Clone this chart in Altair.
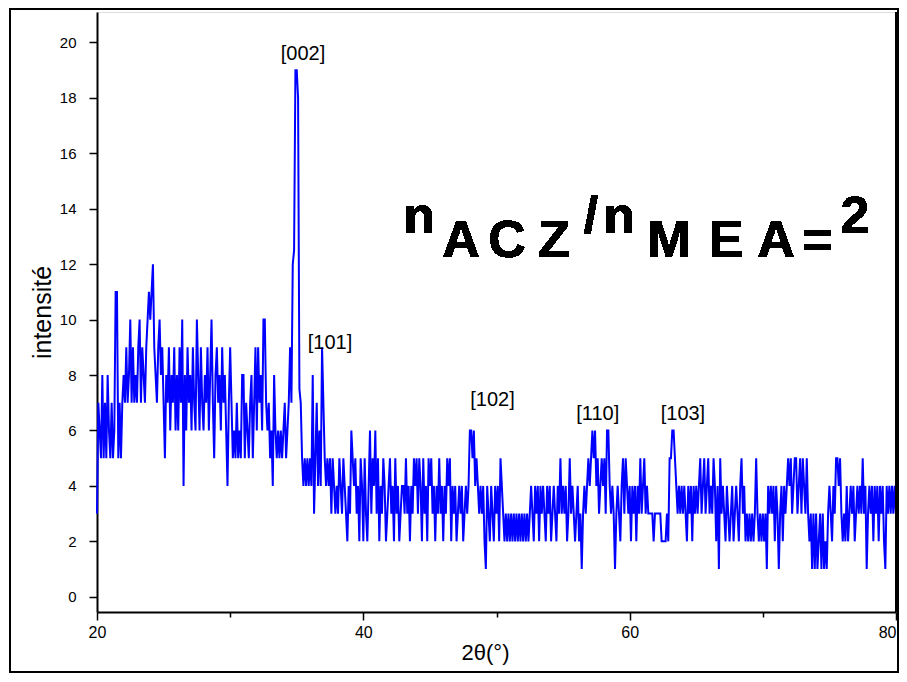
import altair as alt
import pandas as pd
import numpy as np

# 2θ grid: 20.0 .. 80.0, step 0.1
two_theta_start = 20.0
two_theta_step = 0.1

# intensity, one row per degree (10 points each)
intensity_rows = [
    [3, 7, 6, 5, 8, 5, 7, 5, 8, 6],        # 20
    [5, 7, 5, 6, 11, 11, 5, 7, 5, 7],      # 21
    [8, 7, 9, 7, 8, 10, 7, 9, 7, 8],       # 22
    [7, 9, 10, 7, 9, 8, 7, 9, 10, 11],     # 23
    [10, 11, 12, 9, 8, 7, 9, 10, 8, 9],    # 24
    [7, 5, 8, 7, 9, 6, 8, 7, 9, 6],        # 25
    [8, 6, 9, 7, 10, 4, 8, 6, 9, 7],       # 26
    [8, 6, 9, 7, 6, 10, 8, 6, 9, 7],       # 27
    [6, 8, 7, 9, 6, 8, 10, 7, 5, 8],       # 28
    [9, 7, 8, 6, 9, 7, 8, 6, 4, 7],        # 29
    [9, 7, 5, 6, 5, 7, 5, 6, 5, 8],        # 30
    [8, 5, 7, 6, 5, 7, 8, 5, 7, 9],        # 31
    [6, 9, 7, 8, 6, 10, 10, 7, 6, 7],      # 32
    [5, 6, 4, 8, 6, 5, 6, 5, 6, 5],        # 33
    [6, 7, 5, 6, 7, 9, 7, 12, 12.5, 19],   # 34
    [19, 18, 7.5, 7, 5, 4, 5, 4, 5, 4],    # 35
    [5, 4, 8, 3, 5, 7, 4, 6, 4, 9],        # 36
    [7, 5, 4, 5, 4, 5, 3, 5, 4, 3],        # 37
    [4, 3, 5, 4, 3, 5, 4, 3, 2, 4],        # 38
    [3, 6, 5, 4, 5, 3, 4, 2, 5, 4],        # 39
    [2, 5, 3, 2, 4, 6, 3, 5, 4, 6],        # 40
    [3, 5, 2, 4, 3, 5, 4, 2, 3, 4],        # 41
    [5, 3, 4, 2, 5, 3, 4, 2, 3, 4],        # 42
    [4, 3, 5, 3, 4, 2, 4, 3, 5, 4],        # 43
    [5, 3, 5, 4, 2, 5, 3, 4, 2, 5],        # 44
    [4, 5, 3, 4, 2, 4, 3, 5, 3, 4],        # 45
    [2, 4, 3, 5, 4, 5, 2, 4, 3, 4],        # 46
    [2, 3, 4, 3, 4, 2, 3, 4, 3, 4],        # 47
    [6, 6, 5, 6, 4, 5, 4, 3, 4, 3],        # 48
    [4, 2, 1, 4, 3, 2, 4, 3, 2, 4],        # 49
    [3, 4, 2, 5, 4, 3, 2, 3, 2, 3],        # 50
    [2, 3, 2, 3, 2, 3, 2, 3, 2, 3],        # 51
    [2, 3, 2, 3, 2, 3, 4, 3, 2, 4],        # 52
    [3, 4, 2, 4, 3, 4, 3, 2, 4, 3],        # 53
    [4, 2, 3, 4, 3, 2, 4, 3, 5, 3],        # 54
    [4, 3, 4, 2, 3, 5, 3, 4, 3, 2],        # 55
    [3, 4, 2, 3, 1, 3, 4, 3, 4, 5],        # 56
    [4, 5, 6, 5, 6, 4, 5, 3, 4, 5],        # 57
    [4, 5, 3, 6, 6, 4, 3, 4, 3, 1],        # 58
    [3, 4, 3, 2, 4, 5, 3, 5, 4, 3],        # 59
    [4, 2, 4, 3, 4, 2, 4, 3, 5, 3],        # 60
    [4, 5, 3, 4, 3, 3, 3, 3, 2, 3],        # 61
    [3, 3, 3, 3, 2, 2, 2, 2, 3, 2],        # 62
    [5, 5, 6, 6, 5, 4, 3, 4, 3, 4],        # 63
    [3, 4, 3, 2, 4, 3, 4, 2, 4, 3],        # 64
    [4, 3, 4, 5, 3, 4, 5, 3, 4, 5],        # 65
    [3, 4, 3, 5, 4, 2, 4, 1, 5, 3],        # 66
    [4, 3, 2, 4, 3, 2, 3, 4, 2, 3],        # 67
    [4, 3, 2, 4, 5, 3, 4, 2, 3, 2],        # 68
    [3, 2, 3, 2, 3, 5, 3, 2, 3, 2],        # 69
    [3, 2, 3, 1, 4, 3, 4, 3, 4, 2],        # 70
    [4, 3, 1, 3, 4, 2, 4, 3, 4, 5],        # 71
    [4, 5, 3, 4, 5, 5, 3, 4, 5, 3],        # 72
    [5, 4, 3, 5, 3, 2, 3, 1, 3, 1],        # 73
    [3, 1, 2, 3, 1, 3, 1, 2, 1, 3],        # 74
    [4, 3, 2, 4, 3, 5, 5, 4, 5, 3],        # 75
    [2, 3, 2, 4, 2, 3, 4, 3, 4, 2],        # 76
    [3, 4, 3, 4, 3, 5, 3, 4, 1, 3],        # 77
    [4, 3, 4, 2, 4, 3, 4, 2, 4, 3],        # 78
    [4, 2, 1, 4, 3, 4, 3, 4, 3, 4],        # 79
    [3],                                   # 80
]

peak_labels = ["[002]", "[101]", "[102]", "[110]", "[103]"]
peak_label_x = [35.47, 37.5, 49.7, 57.6, 64.0]
peak_label_y = [19.6, 9.15, 7.1, 6.6, 6.6]

ratio_chars = ["n", "A", "C", "Z", "/", "n", "M", "E", "A", "=", "2"]
ratio_raised = [True, False, False, False, True, True, False, False, False, False, True]

# ---------------------------------------------------------------
intensity = [v for row in intensity_rows for v in row]
two_theta = [round(two_theta_start + i * two_theta_step, 1) for i in range(len(intensity))]
df = pd.DataFrame({"two_theta": two_theta, "intensity": intensity})
ann = pd.DataFrame({"two_theta": peak_label_x, "intensity": peak_label_y, "label": peak_labels})

W, H = 799, 600
FONT = "Liberation Sans"

x_scale = alt.Scale(domain=[20, 80], nice=False, zero=False)
y_scale = alt.Scale(domain=[-0.55, 21.1], nice=False, zero=False)

x_axis = alt.Axis(
    title="2θ(°)", values=[20, 30, 40, 50, 60, 70, 80],
    labelExpr="datum.value % 20 === 0 ? datum.label : ''",
    tickSize=alt.ExprRef(expr="datum.value % 20 === 0 ? 8 : 5"),
    labelAlign=alt.ExprRef(expr="datum.value === 80 ? 'right' : 'center'"),
    labelFlush=False, labelOverlap=False,
    grid=False, domainColor="black", domainWidth=2, tickColor="black", tickWidth=1.5,
    labelFont=FONT, labelFontSize=16, labelColor="black", labelPadding=4,
    titleFont=FONT, titleFontSize=22, titleFontWeight="normal", titleColor="black",
    titlePadding=2, titleX=388,
)
y_axis = alt.Axis(
    title="intensité", values=list(range(0, 22)),
    labelExpr="datum.value % 2 === 0 ? datum.label : ''",
    tickSize=alt.ExprRef(expr="datum.value % 2 === 0 ? 8 : 5"),
    labelFlush=False, labelOverlap=False,
    grid=False, domainColor="black", domainWidth=2, tickColor="black", tickWidth=1.5,
    labelFont=FONT, labelFontSize=15, labelColor="black", labelPadding=13,
    titleFont=FONT, titleFontSize=25, titleFontWeight="normal", titleColor="black",
    titlePadding=4,
)

line = alt.Chart(df).mark_line(color="#0000FF", strokeWidth=2).encode(
    x=alt.X("two_theta:Q", scale=x_scale, axis=x_axis),
    y=alt.Y("intensity:Q", scale=y_scale, axis=y_axis),
)

right_edge = alt.Chart(df).mark_rule(color="black", strokeWidth=2).encode(
    x=alt.datum(80), y=alt.value(0), y2=alt.value(H)
)

labels = alt.Chart(ann).mark_text(
    font=FONT, fontSize=20, color="black", baseline="middle", align="center"
).encode(
    x=alt.X("two_theta:Q", scale=x_scale),
    y=alt.Y("intensity:Q", scale=y_scale),
    text="label:N",
)

# big ratio label: one glyph each so the wide spacing and raised glyphs match
char_centers = [322, 364, 410, 457, 494, 522, 572, 629, 679, 721, 758]
ratio_layers = []
for ch, cx, up in zip(ratio_chars, char_centers, ratio_raised):
    ratio_layers.append(
        alt.Chart(df).mark_text(
            text=ch, font=FONT, fontSize=52, fontWeight="bold", color="black",
            align="center", baseline="alphabetic",
        ).encode(x=alt.value(cx), y=alt.value(221 if up else 245))
    )

frame = alt.Chart(df).mark_rect(filled=False, stroke="black", strokeWidth=2).encode(
    x=alt.value(-87), x2=alt.value(801), y=alt.value(-3), y2=alt.value(660)
)

chart = alt.layer(line, right_edge, labels, *ratio_layers, frame).properties(
    width=W, height=H,
    autosize=alt.AutoSizeParams(type="none"),
    padding={"left": 89, "top": 4, "right": 3, "bottom": 62},
).configure_view(stroke=None).configure(background="white")

chart.save("out.html", embed_options={"renderer": "svg", "actions": False})
